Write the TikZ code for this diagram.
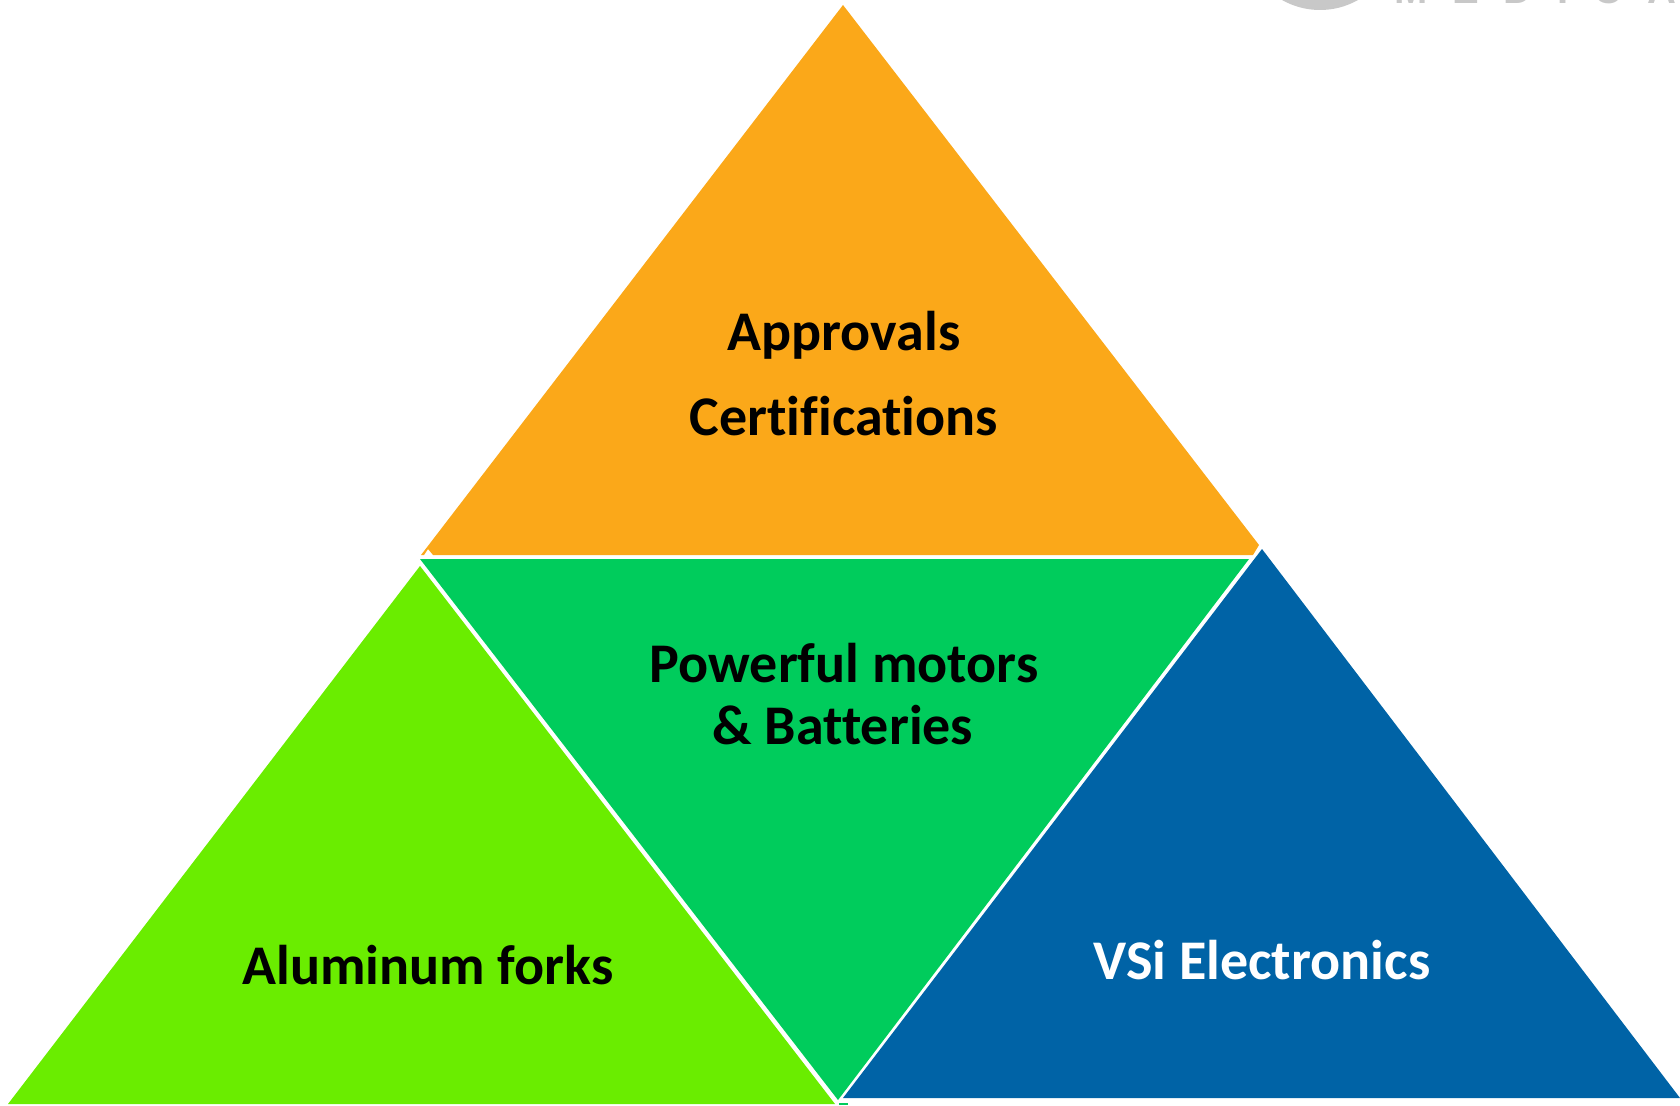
\documentclass[tikz,border=0pt]{standalone}
\usepackage{fontspec}
\setmainfont[Ligatures=NoCommon]{Carlito}
\newfontfamily\logofont[LetterSpace=62,BoldFont={Liberation Sans Bold}]{Liberation Sans}
\definecolor{cOrange}{RGB}{251,168,25}
\definecolor{cGreen}{RGB}{0,204,92}
\definecolor{cLime}{RGB}{106,237,0}
\definecolor{cBlue}{RGB}{0,99,166}
\definecolor{cLogo}{RGB}{200,200,200}
\tikzset{
  lbl/.style={anchor=base,inner sep=0pt,font=\fontsize{56}{56}\selectfont\bfseries,text=black},
  lblw/.style={lbl,text=white}
}
\begin{document}
\begin{tikzpicture}[x=1pt,y=-1pt]
\useasboundingbox (0,0) rectangle (1680,1105);
% logo remnant
\clip (0,0) rectangle (1680,1105);
\fill[cLogo] (1320,-67) circle (77);
\node[anchor=base west,inner sep=0pt,text=cLogo,font=\logofont\fontsize{40}{40}\selectfont\bfseries] (logo) at (1394,4) {MEDICA};
% triangles
\fill[cOrange] (843,5) -- (1259,545) -- (1253,555) -- (433,555) -- (428,549) -- (424,555) -- (421,555) -- cycle;
\fill[cGreen] (420,559) -- (1249,559) -- (838,1100) -- cycle;
\fill[cGreen] (839,1103) rectangle (848,1105);
\fill[cLime] (420,566) -- (835,1104) -- (8,1104) -- cycle;
\fill[cBlue] (1262,549) -- (1680,1098) -- (843,1098) -- cycle;
% labels
\node[lbl] (a) at (844,350) {Approvals};
\node[lbl] (c) at (844,435) {Certifications};
\node[lbl] (p) at (844,682) {Powerful motors};
\node[lbl] (b) at (843,744) {\& Batteries};
\node[lbl] (f) at (428,984) {Aluminum forks};
\node[lblw] (v) at (1262,979) {VSi Electronics};
\end{tikzpicture}
\end{document}
